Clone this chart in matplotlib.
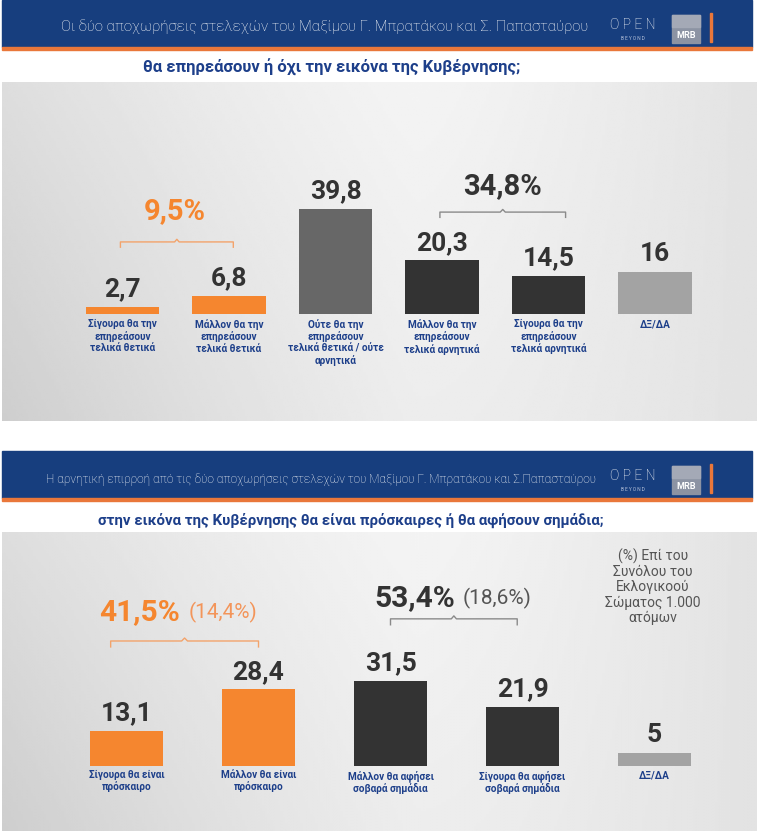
import numpy as np
import matplotlib
matplotlib.use("Agg")
import matplotlib.pyplot as plt
from matplotlib.patches import Rectangle

plt.rcParams['font.family'] = ['Roboto', 'DejaVu Sans']

# ---- data ----
title1 = "Οι δύο αποχωρήσεις στελεχών του Μαξίμου Γ. Μπρατάκου και Σ. Παπασταύρου"
subtitle1 = "θα επηρεάσουν ή όχι την εικόνα της Κυβέρνησης;"
labels1 = ["Σίγουρα θα την\nεπηρεάσουν\nτελικά θετικά",
           "Μάλλον θα την\nεπηρεάσουν\nτελικά θετικά",
           "Ούτε θα την\nεπηρεάσουν\nτελικά θετικά / ούτε\nαρνητικά",
           "Μάλλον θα την\nεπηρεάσουν\nτελικά αρνητικά",
           "Σίγουρα θα την\nεπηρεάσουν\nτελικά αρνητικά",
           "ΔΞ/ΔΑ"]
values1 = [2.7, 6.8, 39.8, 20.3, 14.5, 16]
kinds1 = ["pos", "pos", "mid", "neg", "neg", "dk"]
group_pos1 = "9,5%"
group_neg1 = "34,8%"

title2 = "Η αρνητική επιρροή από τις δύο αποχωρήσεις στελεχών του Μαξίμου Γ. Μπρατάκου και Σ.Παπασταύρου"
subtitle2 = "στην εικόνα της Κυβέρνησης θα είναι πρόσκαιρες ή θα αφήσουν σημάδια;"
labels2 = ["Σίγουρα θα είναι\nπρόσκαιρο",
           "Μάλλον θα είναι\nπρόσκαιρο",
           "Μάλλον θα αφήσει\nσοβαρά σημάδια",
           "Σίγουρα θα αφήσει\nσοβαρά σημάδια",
           "ΔΞ/ΔΑ"]
values2 = [13.1, 28.4, 31.5, 21.9, 5]
kinds2 = ["pos", "pos", "neg", "neg", "dk"]
group_pos2 = ("41,5%", "(14,4%)")
group_neg2 = ("53,4%", "(18,6%)")
note2 = "(%) Επί του\nΣυνόλου του\nΕκλογικοού\nΣώματος 1.000\nατόμων"

colors = {"pos": "#F5862F", "mid": "#676767", "neg": "#333333", "dk": "#A3A3A3"}
BLUE = "#173E7E"
LABEL_BLUE = "#1D3F8A"
ORANGE_LINE = "#E9773A"
W, H = 761, 831

fig = plt.figure(figsize=(W / 100, H / 100), dpi=100)
fig.patch.set_facecolor("white")


def fx(x):
    return x / W


def fy(y):
    return 1 - y / H


def box(x0, y0, x1, y1):
    # figure rect from pixel box
    return [fx(x0), fy(y1), fx(x1) - fx(x0), fy(y0) - fy(y1)]


def background(x0, y0, x1, y1):
    bg = fig.add_axes(box(x0, y0, x1, y1), zorder=0)
    xs = np.linspace(0, 1, 300)
    ys = np.linspace(0, 1, 100)
    X, Y = np.meshgrid(xs, ys)
    g = 0.955 - 0.19 * np.abs(X - 0.55) ** 1.3 - 0.06 * Y * (1 - X)
    bg.imshow(g, cmap="gray", vmin=0, vmax=1, aspect="auto",
              extent=[0, 1, 1, 0], interpolation="bilinear")
    bg.set_axis_off()


def header(y0, title, tx, ty, tsize):
    fig.patches.append(Rectangle((fx(2), fy(y0 + 47)), fx(752) - fx(2), fy(y0) - fy(y0 + 47),
                                 transform=fig.transFigure, color=BLUE, zorder=1))
    fig.patches.append(Rectangle((fx(2), fy(y0 + 50)), fx(752) - fx(2), fy(y0 + 47) - fy(y0 + 50),
                                 transform=fig.transFigure, color=ORANGE_LINE, zorder=1))
    fig.text(fx(tx), fy(y0 + ty), title, color="white", fontsize=tsize,
             fontweight="light", ha="left", va="center", zorder=3)
    # logos
    fig.text(fx(633), fy(y0 + 25), "O P E N", color="white", fontsize=10,
             fontweight="light", ha="center", va="center", zorder=3)
    fig.text(fx(633), fy(y0 + 38), "B E Y O N D", color="#b8c4dc", fontsize=3.4,
             ha="center", va="center", zorder=3)
    fig.patches.append(Rectangle((fx(672), fy(y0 + 43)), fx(700) - fx(672), fy(y0 + 15) - fy(y0 + 43),
                                 transform=fig.transFigure, color="#8c93a3", zorder=2))
    fig.patches.append(Rectangle((fx(672), fy(y0 + 27)), fx(700) - fx(672), fy(y0 + 15) - fy(y0 + 27),
                                 transform=fig.transFigure, color="#a4a9b6", zorder=2))
    fig.text(fx(686), fy(y0 + 36), "MRB", color="white", fontsize=6.5,
             fontweight="bold", ha="center", va="center", zorder=3)
    fig.patches.append(Rectangle((fx(710), fy(y0 + 42)), fx(712) - fx(710), fy(y0 + 13) - fy(y0 + 42),
                                 transform=fig.transFigure, color=ORANGE_LINE, zorder=2))


def bracket(ax, x0, x1, y, h, color):
    xc = (x0 + x1) / 2
    d = (x1 - x0) * 0.02
    ax.plot([x0, x0, xc - d, xc, xc + d, x1, x1],
            [y - h, y, y, y + h * 0.5, y, y, y - h],
            color=color, lw=1.0, solid_joinstyle="round", zorder=3)


# ================= top panel =================
header(0, title1, 61, 27, 10.85)
fig.text(fx(332), fy(67), subtitle1, color=LABEL_BLUE, fontsize=12,
         fontweight="bold", ha="center", va="center")
background(2, 82, 757, 421)

ax1 = fig.add_axes(box(69.3, 82, 708.3, 421), zorder=2)
ax1.patch.set_alpha(0)
x1 = np.arange(len(values1))
ax1.bar(x1, values1, width=0.69, color=[colors[k] for k in kinds1], zorder=2)
ax1.set_xlim(-0.5, len(values1) - 0.5)
ax1.set_ylim(-(421 - 314) / 2.64, (314 - 82) / 2.64)
ax1.set_axis_off()
for i, v in enumerate(values1):
    ax1.annotate(f"{v:g}".replace(".", ","), (i, v), xytext=(0, 4), textcoords="offset points",
                 ha="center", va="bottom", fontsize=19, fontweight="bold", color="#333333")
    ax1.text(i, -2.0, labels1[i], ha="center", va="top", fontsize=7.2,
             fontweight="bold", color=LABEL_BLUE, linespacing=1.15)
bracket(ax1, -0.02, 1.04, 27.3, 2.0, "#F3A36B")
ax1.text(0.49, 39.0, group_pos1, ha="center", va="center", fontsize=21,
         fontweight="bold", color="#F5862F")
bracket(ax1, 2.98, 4.16, 38.6, 2.0, "#8a8a8a")
ax1.text(3.57, 48.5, group_neg1, ha="center", va="center", fontsize=21,
         fontweight="bold", color="#333333")

# ================= bottom panel =================
header(451, title2, 46, 29, 8.6)
fig.text(fx(351), fy(520), subtitle2, color=LABEL_BLUE, fontsize=10.8,
         fontweight="bold", ha="center", va="center")
background(2, 532, 757, 831)

ax2 = fig.add_axes(box(60.5, 532, 720.5, 831), zorder=2)
ax2.patch.set_alpha(0)
x2 = np.arange(len(values2))
ax2.bar(x2, values2, width=0.553, color=[colors[k] for k in kinds2], zorder=2)
ax2.set_xlim(-0.5, len(values2) - 0.5)
ax2.set_ylim(-(831 - 766) / 2.7, (766 - 532) / 2.7)
ax2.set_axis_off()
for i, v in enumerate(values2):
    ax2.annotate(f"{v:g}".replace(".", ","), (i, v), xytext=(0, 4), textcoords="offset points",
                 ha="center", va="bottom", fontsize=19, fontweight="bold", color="#333333")
    ax2.text(i, -1.5, labels2[i], ha="center", va="top", fontsize=7.2,
             fontweight="bold", color=LABEL_BLUE, linespacing=1.15)
bracket(ax2, -0.12, 1.0, 46.3, 2.2, "#F3A36B")
ax2.text(0.405, 57.0, group_pos2[0], ha="right", va="center", fontsize=21.5,
         fontweight="bold", color="#F5862F")
ax2.text(0.47, 57.0, group_pos2[1], ha="left", va="center", fontsize=15,
         color="#F3955A")
bracket(ax2, 2.0, 2.96, 54.5, 2.2, "#8a8a8a")
ax2.text(2.49, 62.2, group_neg2[0], ha="right", va="center", fontsize=21.5,
         fontweight="bold", color="#333333")
ax2.text(2.55, 62.2, group_neg2[1], ha="left", va="center", fontsize=15,
         color="#555555")
ax2.text(3.99, 80.5, note2, ha="center", va="top", fontsize=10,
         color="#555555", linespacing=1.1)

fig.savefig("out.png", dpi=100)
